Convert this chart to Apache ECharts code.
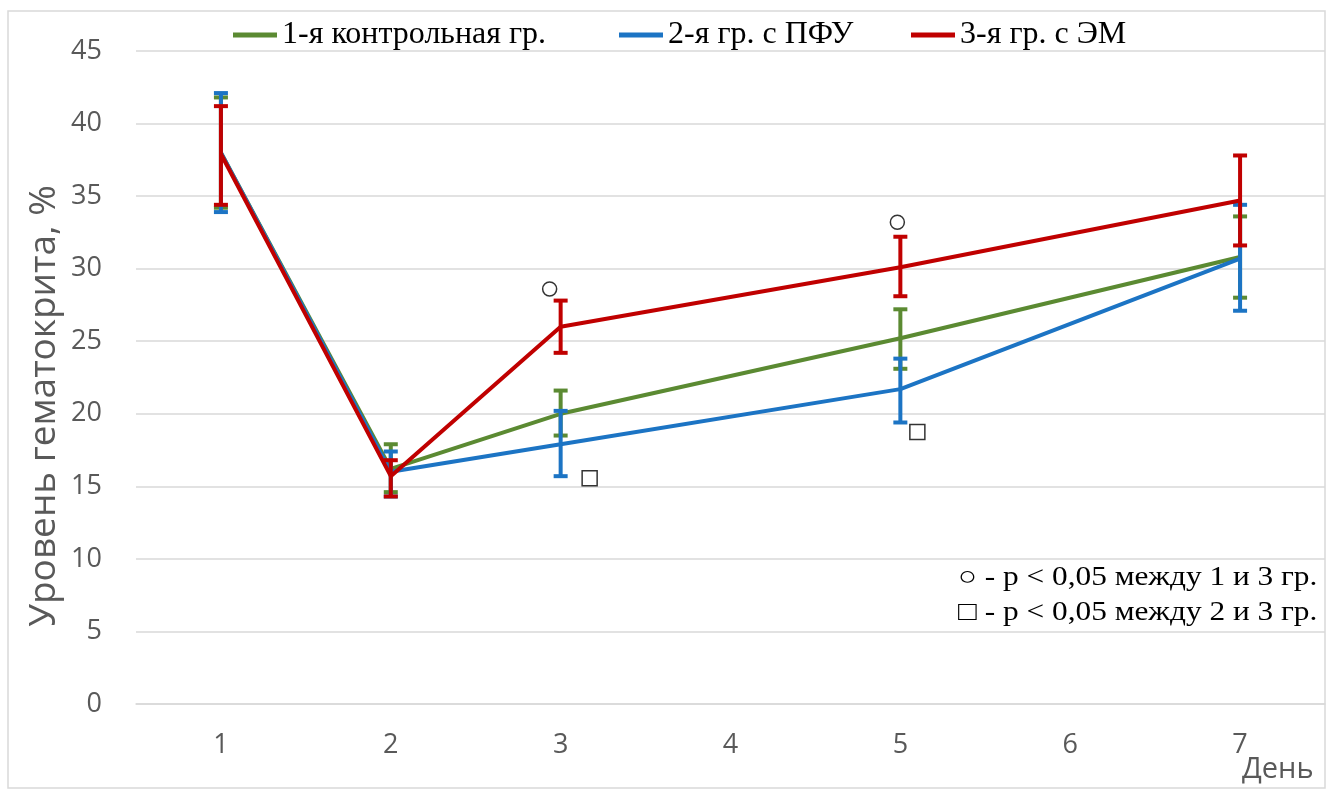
<!DOCTYPE html>
<html>
<head>
<meta charset="utf-8">
<script src="https://cdn.jsdelivr.net/npm/echarts@6/dist/echarts.min.js"></script>
<style>html,body{margin:0;padding:0;background:#fff}#c{width:1333px;height:790px}</style>
</head>
<body>
<div id="c"></div>
<script>
// ---- data ----
const days = ['1', '2', '3', '4', '5', '6', '7'];
const yTicks = [0, 5, 10, 15, 20, 25, 30, 35, 40, 45];
const seriesNames = ['1-я контрольная гр.', '2-я гр. с ПФУ', '3-я гр. с ЭМ'];
const green     = [38.0, 16.2, 20.0, null, 25.2, null, 30.8];
const greenLow  = [34.2, 14.6, 18.5, null, 23.1, null, 28.0];
const greenHigh = [41.8, 17.9, 21.6, null, 27.2, null, 33.6];
const blue      = [38.0, 16.0, 17.9, null, 21.7, null, 30.7];
const blueLow   = [33.9, 14.3, 15.7, null, 19.4, null, 27.1];
const blueHigh  = [42.1, 17.4, 20.2, null, 23.8, null, 34.4];
const red       = [37.9, 15.7, 26.0, null, 30.1, null, 34.7];
const redLow    = [34.4, 14.3, 24.2, null, 28.1, null, 31.6];
const redHigh   = [41.2, 16.8, 27.8, null, 32.2, null, 37.8];
const sigCircle = [['3', 28.6], ['5', 33.2]];   // p<0.05 between 1 and 3
const sigSquare = [['3', 15.55], ['5', 18.75]]; // p<0.05 between 2 and 3
const noteLines = ['○ - p < 0,05 между 1 и 3 гр.', '□ - p < 0,05 между 2 и 3 гр.'];
const yAxisTitle = 'Уровень гематокрита, %';
const xAxisTitle = 'День';

// ---- styles ----
const COLORS = ['#5b8a32', '#1c74c4', '#c00000'];
const circleOffsets = [[-11, 0], [-3, 0]];
const squareOffsets = [[29, 0], [17, 0]];
const legendLefts = [228, 614, 906];

function errData(low, high) {
  const out = [];
  for (let i = 0; i < days.length; i++) {
    if (low[i] != null) out.push([i, low[i], high[i]]);
  }
  return out;
}
function errSeries(name, low, high, color, z) {
  return {
    type: 'custom', name: name + ' err', z: z,
    data: errData(low, high),
    encode: { x: 0, y: [1, 2] },
    renderItem: function (params, api) {
      const x = api.value(0);
      const p1 = api.coord([x, api.value(1)]);
      const p2 = api.coord([x, api.value(2)]);
      const hw = 7;
      const st = { stroke: color, lineWidth: 4 };
      return {
        type: 'group',
        children: [
          { type: 'line', shape: { x1: p1[0], y1: p1[1], x2: p2[0], y2: p2[1] }, style: st },
          { type: 'line', shape: { x1: p1[0] - hw, y1: p1[1], x2: p1[0] + hw, y2: p1[1] }, style: st },
          { type: 'line', shape: { x1: p2[0] - hw, y1: p2[1], x2: p2[0] + hw, y2: p2[1] }, style: st }
        ]
      };
    }
  };
}
function lineSeries(name, data, color, z) {
  return {
    type: 'line', name: name, data: data, z: z, connectNulls: true,
    symbol: 'none', lineStyle: { color: color, width: 4 }, itemStyle: { color: color }
  };
}

const chart = echarts.init(document.getElementById('c'));
chart.setOption({
  animation: false,
  backgroundColor: '#fff',
  grid: { left: 136, right: 8, top: 51, bottom: 86 },
  legend: seriesNames.map((n, i) => ({
    data: [n], left: legendLefts[i], top: 14, itemWidth: 44, itemHeight: 5, itemGap: 0,
    icon: 'rect',
    textStyle: { fontFamily: 'Liberation Serif', fontSize: 32, color: '#000' }
  })),
  xAxis: {
    type: 'category', data: days, boundaryGap: true,
    axisLine: { show: true, lineStyle: { color: '#d9d9d9', width: 1.5 } },
    axisTick: { show: false },
    axisLabel: { color: '#595959', fontFamily: 'Open Sans', fontSize: 27, margin: 28 }
  },
  yAxis: {
    type: 'value', min: yTicks[0], max: yTicks[yTicks.length - 1], interval: yTicks[1] - yTicks[0],
    axisLine: { show: false }, axisTick: { show: false },
    splitLine: { lineStyle: { color: '#d9d9d9', width: 1.5 } },
    axisLabel: { color: '#595959', fontFamily: 'Open Sans', fontSize: 27, margin: 34 }
  },
  graphic: [
    { type: 'rect', shape: { x: 8, y: 11, width: 1317, height: 777 }, style: { fill: null, stroke: '#d9d9d9', lineWidth: 1.5 }, z: -1, silent: true },
    { type: 'text', x: 44, y: 406, rotation: Math.PI / 2, style: { text: yAxisTitle, fill: '#595959', font: '37px "Open Sans"', align: 'center', verticalAlign: 'middle' } },
    { type: 'text', x: 1242, y: 770, style: { text: xAxisTitle, fill: '#595959', font: '29px "Open Sans"', align: 'left', verticalAlign: 'middle' } },
    { type: 'text', x: 958, y: 578, scaleX: 1.16, style: { text: noteLines[0], fill: '#000', font: '27px "Liberation Serif"', align: 'left', verticalAlign: 'middle' } },
    { type: 'text', x: 958, y: 613, scaleX: 1.16, style: { text: noteLines[1], fill: '#000', font: '27px "Liberation Serif"', align: 'left', verticalAlign: 'middle' } }
  ],
  series: [
    lineSeries(seriesNames[0], green, COLORS[0], 2),
    errSeries(seriesNames[0], greenLow, greenHigh, COLORS[0], 2),
    lineSeries(seriesNames[1], blue, COLORS[1], 3),
    errSeries(seriesNames[1], blueLow, blueHigh, COLORS[1], 3),
    lineSeries(seriesNames[2], red, COLORS[2], 4),
    errSeries(seriesNames[2], redLow, redHigh, COLORS[2], 4),
    {
      type: 'scatter', name: 'sig13', z: 5, symbol: 'circle', symbolSize: 14,
      itemStyle: { color: '#fff', borderColor: '#000', borderWidth: 1.5 },
      data: sigCircle.map((d, i) => ({ value: d, symbolOffset: circleOffsets[i] }))
    },
    {
      type: 'scatter', name: 'sig23', z: 5, symbol: 'rect', symbolSize: 15,
      itemStyle: { color: '#fff', borderColor: '#000', borderWidth: 1.5 },
      data: sigSquare.map((d, i) => ({ value: d, symbolOffset: squareOffsets[i] }))
    }
  ]
});
</script>
</body>
</html>
